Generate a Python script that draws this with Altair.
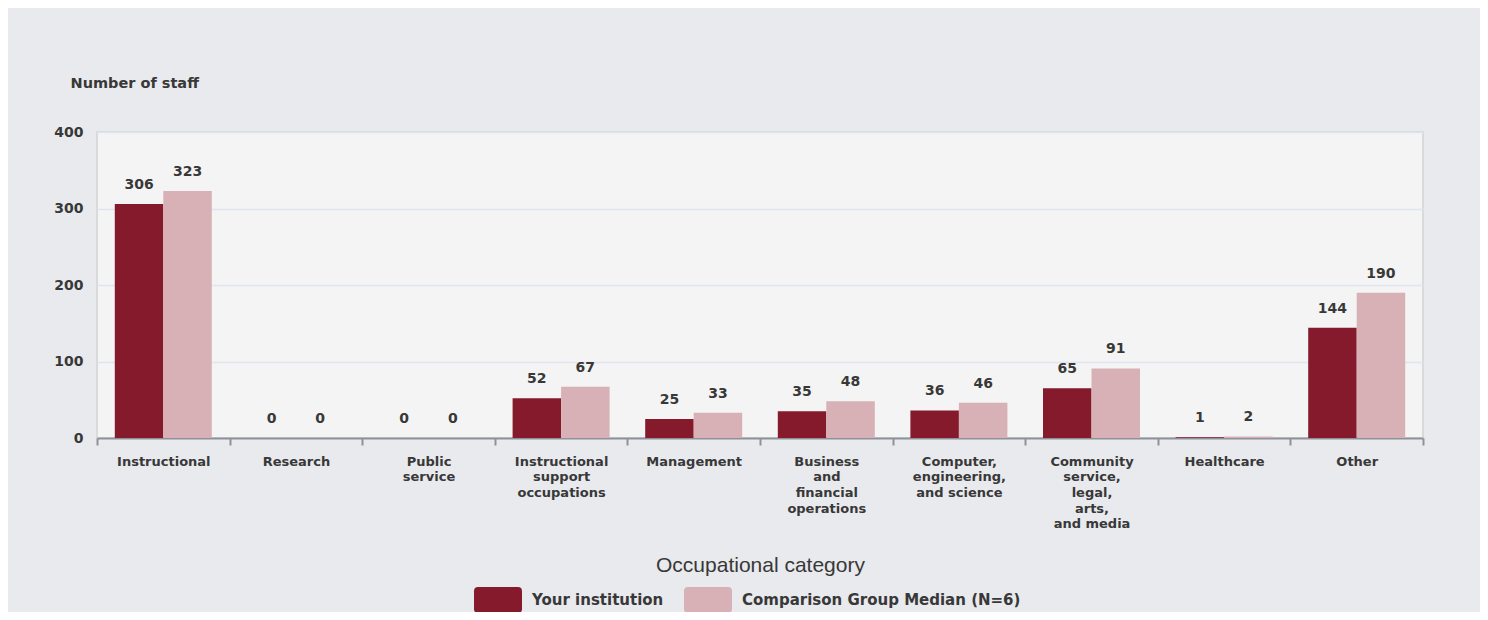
import altair as alt
import pandas as pd

categories = [
    "Instructional",
    "Research",
    "Public|service",
    "Instructional|support|occupations",
    "Management",
    "Business|and|financial|operations",
    "Computer,|engineering,|and science",
    "Community|service,|legal,|arts,|and media",
    "Healthcare",
    "Other",
]
series = ["Your institution", "Comparison Group Median (N=6)"]
your_institution = [306, 0, 0, 52, 25, 35, 36, 65, 1, 144]
comparison_median = [323, 0, 0, 67, 33, 48, 46, 91, 2, 190]
y_ticks = [0, 100, 200, 300, 400]
colors = ["#841a2b", "#d7b1b6"]

rows = []
for c, a, b in zip(categories, your_institution, comparison_median):
    rows.append({"category": c, "series": series[0], "value": a})
    rows.append({"category": c, "series": series[1], "value": b})
df = pd.DataFrame(rows)

FONT = "DejaVu Sans"
TXT = "#383838"

x_enc = alt.X(
    "category:N",
    sort=categories,
    scale=alt.Scale(paddingInner=0, paddingOuter=0),
    axis=alt.Axis(
        title="Occupational category",
        labelAngle=0,
        labelExpr="split(datum.label, '|')",
        labelFont=FONT,
        labelFontSize=13,
        labelFontWeight="bold",
        labelColor=TXT,
        labelLineHeight=15.7,
        labelBaseline="top",
        labelPadding=10,
        tickBand="extent",
        tickSize=7,
        tickColor="#8e9298",
        tickWidth=2,
        domainColor="#8e9298",
        domainWidth=2,
        titleFont="Liberation Sans",
        titleFontSize=21,
        titleFontWeight="normal",
        titleColor=TXT,
        titleBaseline="middle",
        titleY=127,
        grid=False,
    ),
)
xoff_enc = alt.XOffset(
    "series:N", sort=series, scale=alt.Scale(paddingOuter=0.367, paddingInner=0)
)
y_enc = alt.Y(
    "value:Q",
    scale=alt.Scale(domain=[0, 400], nice=False),
    axis=alt.Axis(
        values=y_ticks,
        title="Number of staff",
        titleAngle=0,
        titleAlign="left",
        titleBaseline="middle",
        titleX=-27,
        titleY=-49,
        titleFont=FONT,
        titleFontSize=14.5,
        titleFontWeight="bold",
        titleColor=TXT,
        labelFont=FONT,
        labelFontSize=14,
        labelFontWeight="bold",
        labelColor=TXT,
        labelPadding=14,
        ticks=False,
        domain=False,
        grid=True,
        gridColor="#dfe4ee",
        gridWidth=1.5,
    ),
)

legend_symbol = (
    "M-0.83,-0.54 L0.83,-0.54 Q1,-0.54 1,-0.37 L1,0.37 Q1,0.54 0.83,0.54 "
    "L-0.83,0.54 Q-1,0.54 -1,0.37 L-1,-0.37 Q-1,-0.54 -0.83,-0.54 Z"
)

color_enc = alt.Color(
    "series:N",
    sort=series,
    scale=alt.Scale(domain=series, range=colors),
    legend=alt.Legend(
        title=None,
        orient="none",
        legendX=377,
        legendY=444,
        direction="horizontal",
        symbolType=legend_symbol,
        symbolSize=2304,
        symbolStrokeWidth=0,
        symbolOpacity=1,
        labelOffset=10,
        columnPadding=20,
        padding=0,
        labelFont=FONT,
        labelFontSize=15,
        labelFontWeight="bold",
        labelColor=TXT,
        labelLimit=400,
    ),
)

bars = alt.Chart(df).mark_bar(opacity=1).encode(
    x=x_enc, xOffset=xoff_enc, y=y_enc, color=color_enc
)

labels = alt.Chart(df).mark_text(
    dy=-19,
    baseline="middle",
    font=FONT,
    fontSize=14,
    fontWeight="bold",
    color=TXT,
).encode(
    x=alt.X("category:N", sort=categories),
    xOffset=alt.XOffset("series:N", sort=series),
    y=alt.Y("value:Q"),
    text=alt.Text("value:Q"),
)

chart = (
    alt.layer(bars, labels)
    .properties(
        width=1326,
        height=306,
        background="#e9eaee",
        padding={"left": 89, "top": 124, "right": 57, "bottom": 174},
        autosize=alt.AutoSizeParams(type="none"),
    )
    .configure_view(fill="#f4f4f4", stroke="#d9dadd", strokeWidth=2)
)

chart.save("out.html", embed_options={"renderer": "svg", "actions": False})
